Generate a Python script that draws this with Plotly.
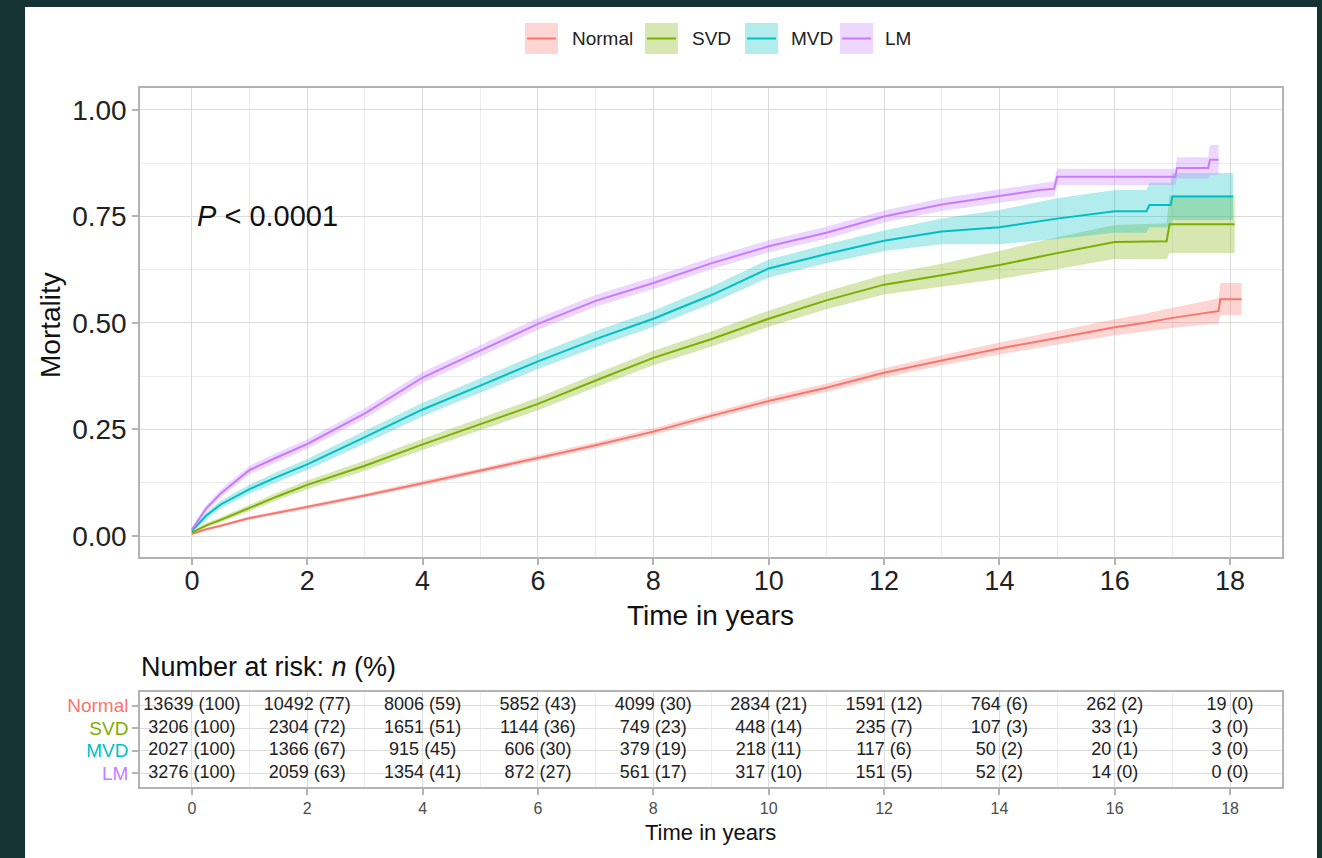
import plotly.graph_objects as go

# ---------------- data ----------------
groups = ["Normal", "SVD", "MVD", "LM"]
colors = ["#F8766D", "#7CAE00", "#00BFC4", "#C77CFF"]
fills = ["rgba(248,118,109,0.3)", "rgba(124,174,0,0.3)", "rgba(0,191,196,0.3)", "rgba(199,124,255,0.3)"]

t_normal = [0, 0.25, 0.5, 1, 1.5, 2, 3, 4, 5, 6, 7, 8, 9, 10, 11, 12, 13, 14, 15, 16, 16.5, 17, 17.5, 17.8, 17.83, 18.2]
m_normal = [0.005, 0.016, 0.024, 0.042, 0.055, 0.068, 0.095, 0.124, 0.153, 0.183, 0.213, 0.245, 0.282, 0.317, 0.348, 0.383, 0.412, 0.440, 0.465, 0.490, 0.500, 0.512, 0.522, 0.528, 0.556, 0.556]
lo_normal = [0.003, 0.013, 0.021, 0.038, 0.051, 0.063, 0.090, 0.118, 0.147, 0.176, 0.206, 0.237, 0.274, 0.308, 0.338, 0.372, 0.400, 0.426, 0.449, 0.471, 0.479, 0.488, 0.495, 0.498, 0.518, 0.518]
hi_normal = [0.007, 0.019, 0.027, 0.046, 0.059, 0.073, 0.100, 0.130, 0.159, 0.190, 0.220, 0.253, 0.290, 0.326, 0.358, 0.394, 0.424, 0.454, 0.481, 0.509, 0.521, 0.536, 0.549, 0.558, 0.594, 0.594]

t_svd = [0, 0.25, 0.5, 1, 1.5, 2, 3, 4, 5, 6, 7, 8, 9, 10, 11, 12, 13, 14, 15, 16, 16.9, 16.95, 18.08]
m_svd = [0.008, 0.025, 0.038, 0.066, 0.094, 0.120, 0.165, 0.215, 0.262, 0.310, 0.365, 0.418, 0.462, 0.510, 0.553, 0.590, 0.612, 0.636, 0.664, 0.690, 0.692, 0.732, 0.732]
lo_svd = [0.005, 0.020, 0.032, 0.058, 0.085, 0.110, 0.153, 0.202, 0.248, 0.295, 0.349, 0.401, 0.444, 0.491, 0.532, 0.567, 0.585, 0.603, 0.627, 0.650, 0.650, 0.664, 0.664]
hi_svd = [0.011, 0.030, 0.044, 0.074, 0.103, 0.130, 0.177, 0.228, 0.276, 0.325, 0.381, 0.435, 0.480, 0.529, 0.574, 0.613, 0.639, 0.669, 0.701, 0.730, 0.734, 0.800, 0.800]

t_mvd = [0, 0.25, 0.5, 1, 1.5, 2, 3, 4, 5, 6, 7, 8, 9, 10, 11, 12, 13, 14, 15, 16, 16.55, 16.6, 16.97, 17.0, 18.05]
m_mvd = [0.012, 0.048, 0.074, 0.110, 0.140, 0.168, 0.232, 0.297, 0.353, 0.410, 0.462, 0.510, 0.565, 0.628, 0.662, 0.693, 0.715, 0.725, 0.745, 0.762, 0.762, 0.777, 0.777, 0.797, 0.797]
lo_mvd = [0.008, 0.040, 0.065, 0.099, 0.128, 0.155, 0.217, 0.281, 0.336, 0.392, 0.443, 0.491, 0.545, 0.607, 0.640, 0.669, 0.685, 0.685, 0.697, 0.712, 0.712, 0.725, 0.725, 0.742, 0.742]
hi_mvd = [0.016, 0.056, 0.083, 0.121, 0.152, 0.181, 0.247, 0.313, 0.370, 0.428, 0.481, 0.529, 0.585, 0.649, 0.684, 0.717, 0.745, 0.765, 0.793, 0.812, 0.812, 0.829, 0.829, 0.852, 0.852]

t_lm = [0, 0.25, 0.5, 1, 1.5, 2, 3, 4, 5, 6, 7, 8, 9, 10, 11, 12, 13, 14, 14.7, 14.95, 15.0, 17.05, 17.08, 17.62, 17.65, 17.8]
m_lm = [0.015, 0.065, 0.100, 0.155, 0.186, 0.216, 0.288, 0.372, 0.435, 0.498, 0.552, 0.594, 0.640, 0.680, 0.712, 0.750, 0.778, 0.798, 0.812, 0.815, 0.843, 0.843, 0.864, 0.864, 0.883, 0.883]
lo_lm = [0.010, 0.057, 0.091, 0.145, 0.175, 0.205, 0.276, 0.359, 0.422, 0.484, 0.538, 0.580, 0.626, 0.666, 0.698, 0.736, 0.763, 0.782, 0.795, 0.797, 0.824, 0.824, 0.839, 0.839, 0.848, 0.848]
hi_lm = [0.020, 0.073, 0.109, 0.165, 0.197, 0.227, 0.300, 0.385, 0.448, 0.512, 0.566, 0.608, 0.654, 0.694, 0.726, 0.764, 0.793, 0.814, 0.829, 0.833, 0.862, 0.862, 0.889, 0.889, 0.918, 0.918]

risk_times = [0, 2, 4, 6, 8, 10, 12, 14, 16, 18]
normal_n = [13639, 10492, 8006, 5852, 4099, 2834, 1591, 764, 262, 19]
normal_pct = [100, 77, 59, 43, 30, 21, 12, 6, 2, 0]
svd_n = [3206, 2304, 1651, 1144, 749, 448, 235, 107, 33, 3]
svd_pct = [100, 72, 51, 36, 23, 14, 7, 3, 1, 0]
mvd_n = [2027, 1366, 915, 606, 379, 218, 117, 50, 20, 3]
mvd_pct = [100, 67, 45, 30, 19, 11, 6, 2, 1, 0]
lm_n = [3276, 2059, 1354, 872, 561, 317, 151, 52, 14, 0]
lm_pct = [100, 63, 41, 27, 17, 10, 5, 2, 0, 0]

x_ticks = [0, 2, 4, 6, 8, 10, 12, 14, 16, 18]
y_ticks = [0, 0.25, 0.5, 0.75, 1.0]
y_ticktext = ["0.00", "0.25", "0.50", "0.75", "1.00"]

# ---------------- figure ----------------
W, H = 1322, 858
def px(x):
    return x / W
def py(y):
    return 1 - y / H

FONT = "Liberation Sans, Arial, sans-serif"
curves = [
    (t_normal, m_normal, lo_normal, hi_normal),
    (t_svd, m_svd, lo_svd, hi_svd),
    (t_mvd, m_mvd, lo_mvd, hi_mvd),
    (t_lm, m_lm, lo_lm, hi_lm),
]
risk = [(normal_n, normal_pct), (svd_n, svd_pct), (mvd_n, mvd_pct), (lm_n, lm_pct)]

fig = go.Figure()
for (t, m, lo, hi), fc in zip(curves, fills):
    fig.add_trace(go.Scatter(x=list(t) + list(t)[::-1], y=list(hi) + list(lo)[::-1],
                             fill="toself", fillcolor=fc, line=dict(width=0),
                             mode="lines", hoverinfo="skip", showlegend=False,
                             xaxis="x", yaxis="y"))
for (t, m, lo, hi), c, g in zip(curves, colors, groups):
    fig.add_trace(go.Scatter(x=t, y=m, mode="lines", line=dict(color=c, width=2),
                             name=g, showlegend=False, xaxis="x", yaxis="y"))

row_y = [4, 3, 2, 1]
for (n, p), ry in zip(risk, row_y):
    fig.add_trace(go.Scatter(x=risk_times, y=[ry] * len(risk_times), mode="text",
                             text=[f"{a} ({b})" for a, b in zip(n, p)],
                             textfont=dict(family=FONT, size=18, color="#222222"),
                             showlegend=False, hoverinfo="skip", xaxis="x2", yaxis="y2"))

grid = "#dcdcdc"
minor_grid = "#ececec"
border = "#b3b3b3"

shapes = [
    dict(type="rect", xref="paper", yref="paper", x0=px(25), x1=px(1317), y0=0, y1=py(7),
         fillcolor="white", line=dict(width=0), layer="below"),
]
annotations = []

# manual legend
leg_keys = [(525, 570), (645, 690), (745, 789), (840, 883)]
for (kx, tx), c, fc, g in zip(leg_keys, colors, fills, groups):
    shapes.append(dict(type="rect", xref="paper", yref="paper", x0=px(kx), x1=px(kx + 33),
                       y0=py(54), y1=py(23), fillcolor=fc, line=dict(width=0)))
    shapes.append(dict(type="line", xref="paper", yref="paper", x0=px(kx + 2), x1=px(kx + 31),
                       y0=py(38.5), y1=py(38.5), line=dict(color=c, width=2)))
    annotations.append(dict(xref="paper", yref="paper", x=px(tx), y=py(39), text=g,
                            showarrow=False, xanchor="left", yanchor="middle",
                            font=dict(family=FONT, size=19, color="#222222")))

annotations += [
    dict(xref="paper", yref="paper", x=px(710), y=py(615), text="Time in years", showarrow=False,
         xanchor="center", yanchor="middle", font=dict(family=FONT, size=28, color="#111111")),
    dict(xref="paper", yref="paper", x=px(50), y=py(325), text="Mortality", showarrow=False,
         textangle=-90, xanchor="center", yanchor="middle", font=dict(family=FONT, size=28, color="#111111")),
    dict(xref="x", yref="y", x=0.05, y=0.75, text="<i>P</i> < 0.0001", showarrow=False,
         xanchor="left", yanchor="middle", font=dict(family=FONT, size=29, color="#111111")),
    dict(xref="paper", yref="paper", x=px(139), y=py(667), text="Number at risk: <i>n</i> (%)", showarrow=False,
         xanchor="left", yanchor="middle", font=dict(family=FONT, size=27, color="#111111")),
    dict(xref="paper", yref="paper", x=px(710), y=py(832), text="Time in years", showarrow=False,
         xanchor="center", yanchor="middle", font=dict(family=FONT, size=22, color="#111111")),
]

axis_common = dict(showline=True, mirror=True, linecolor=border, linewidth=1.5,
                   ticks="outside", ticklen=6, tickwidth=1.5, tickcolor=border,
                   showgrid=True, gridcolor=grid, gridwidth=1.3, zeroline=False)

fig.update_layout(
    width=W, height=H,
    margin=dict(l=0, r=0, t=0, b=0),
    paper_bgcolor="#153333", plot_bgcolor="white",
    showlegend=False,
    font=dict(family=FONT),
    shapes=shapes, annotations=annotations,
    xaxis=dict(domain=[px(140), px(1282)], range=[-0.9, 18.9], anchor="y",
               tickvals=x_ticks, tickfont=dict(size=27, color="#222222"), ticklabelstandoff=-7,
               minor=dict(dtick=1, tick0=0, showgrid=True, gridcolor=minor_grid, gridwidth=0.8, ticks=""),
               **axis_common),
    yaxis=dict(domain=[py(557), py(88)], range=[-0.0493, 1.0516], anchor="x",
               tickvals=y_ticks, ticktext=y_ticktext, tickfont=dict(size=28, color="#222222"),
               minor=dict(dtick=0.125, tick0=0, showgrid=True, gridcolor=minor_grid, gridwidth=0.8, ticks=""),
               **axis_common),
    xaxis2=dict(domain=[px(140), px(1282)], range=[-0.9, 18.9], anchor="y2",
                tickvals=x_ticks, tickfont=dict(size=16, color="#4d4d4d"),
                minor=dict(dtick=1, tick0=0, showgrid=True, gridcolor=minor_grid, gridwidth=0.8, ticks=""),
                **axis_common),
    yaxis2=dict(domain=[py(787), py(692)], range=[0.4, 4.6], anchor="x2",
                tickvals=row_y,
                ticktext=[f'<span style="color:{c}">{g}</span>' for g, c in zip(groups, colors)],
                tickfont=dict(size=19),
                **axis_common),
)

fig.write_html("out.html", config={"displayModeBar": False},
               post_script="document.body.style.margin='0';document.body.style.background='#153333';")
